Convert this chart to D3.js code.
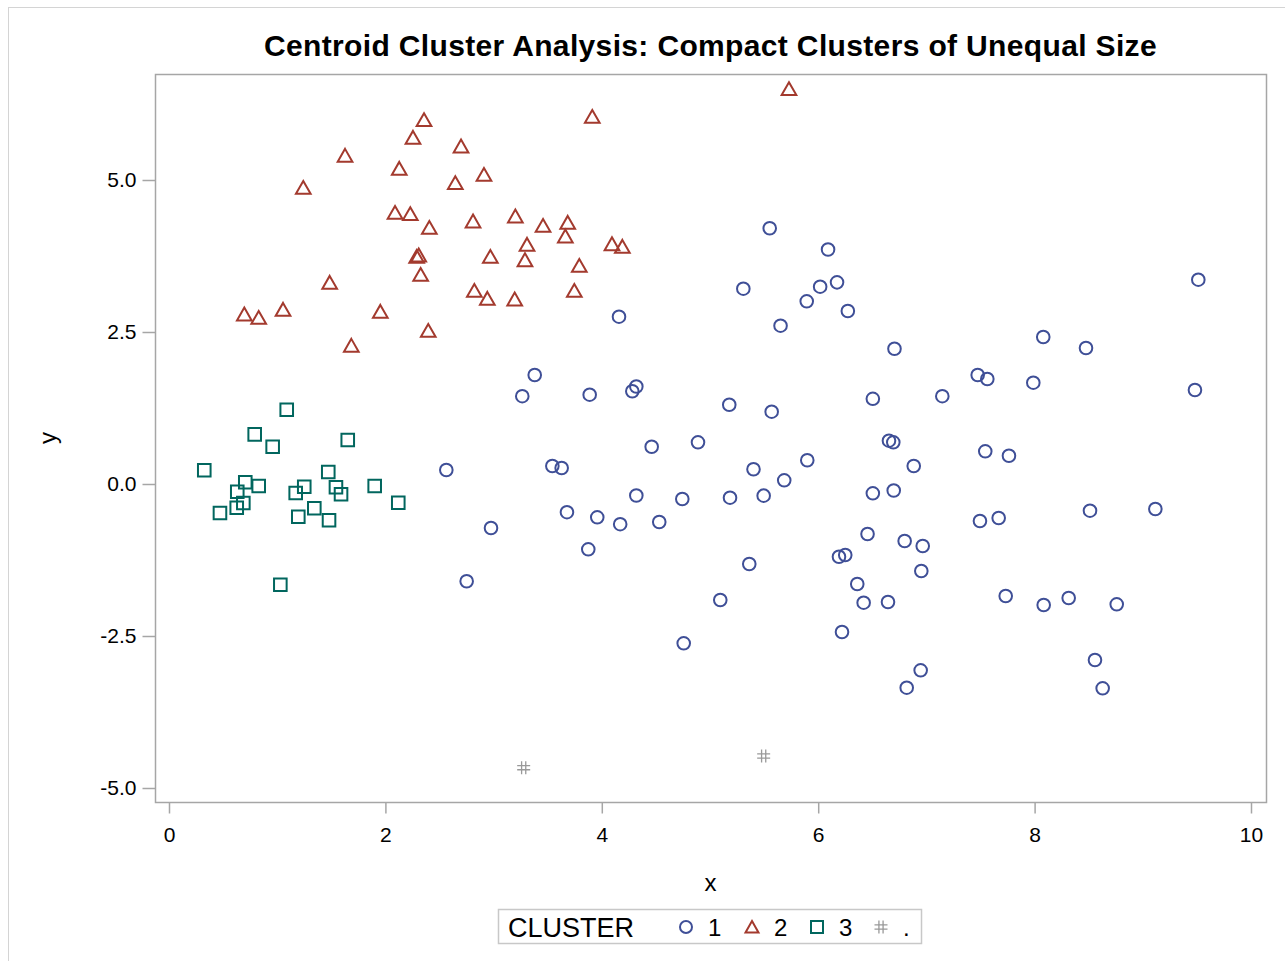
<!DOCTYPE html>
<html>
<head>
<meta charset="utf-8">
<script src="https://cdn.jsdelivr.net/npm/d3@7"></script>
<style>
  body { margin: 0; background: #fff; }
  svg text { font-family: Arial, 'Liberation Sans', sans-serif; }
</style>
</head>
<body>
<div id="chart"></div>
<script>
// cluster 1 (circles)
const c1x = [5.552, 6.091, 5.308, 6.018, 6.174, 5.894, 6.274, 5.652, 4.159, 6.705,
  3.380, 3.265, 3.888, 4.282, 4.319, 5.178, 5.570, 6.505, 7.147, 7.474,
  7.563, 7.988, 8.080, 8.475, 9.513, 9.482, 6.654, 6.694, 4.461, 4.889,
  3.543, 3.629, 5.402, 5.686, 5.899, 6.883, 7.544, 7.763, 6.505, 6.698,
  2.563, 4.319, 4.744, 5.185, 5.496, 3.678, 3.958, 4.170, 4.531, 2.976,
  3.875, 5.363, 6.456, 6.799, 6.966, 6.192, 6.250, 6.953, 6.361, 6.420,
  6.645, 5.095, 6.220, 4.757, 6.947, 6.818, 7.495, 7.668, 8.512, 9.116,
  7.733, 8.084, 8.315, 8.759, 8.558, 8.629, 2.751];
const c1y = [4.206, 3.857, 3.212, 3.245, 3.317, 3.005, 2.845, 2.604, 2.752, 2.225,
  1.793, 1.444, 1.469, 1.525, 1.604, 1.304, 1.189, 1.401, 1.444, 1.793,
  1.727, 1.666, 2.418, 2.237, 3.360, 1.546, 0.712, 0.686, 0.613, 0.686,
  0.296, 0.263, 0.243, 0.061, 0.391, 0.296, 0.538, 0.465, -0.153, -0.107,
  0.230, -0.189, -0.247, -0.225, -0.192, -0.464, -0.548, -0.661, -0.625, -0.724,
  -1.074, -1.316, -0.822, -0.938, -1.020, -1.197, -1.168, -1.431, -1.645, -1.952,
  -1.941, -1.908, -2.434, -2.620, -3.064, -3.350, -0.609, -0.559, -0.439, -0.411,
  -1.842, -1.990, -1.875, -1.979, -2.895, -3.360, -1.600];

// cluster 2 (triangles)
const c2x = [5.730, 3.912, 2.357, 2.255, 2.699, 1.627, 2.128, 2.646, 2.911, 1.241,
  2.089, 2.230, 2.406, 2.810, 3.201, 3.457, 3.685, 3.663, 3.309, 4.094,
  4.190, 2.289, 2.308, 2.970, 3.290, 3.792, 2.326, 1.485, 2.822, 2.942,
  3.195, 3.746, 0.696, 0.829, 1.054, 1.953, 2.396, 1.685];
const c2y = [6.497, 6.041, 5.987, 5.696, 5.554, 5.400, 5.186, 4.951, 5.087, 4.873,
  4.462, 4.441, 4.215, 4.321, 4.403, 4.248, 4.298, 4.074, 3.936, 3.947,
  3.903, 3.738, 3.762, 3.738, 3.684, 3.590, 3.442, 3.311, 3.179, 3.048,
  3.038, 3.179, 2.791, 2.735, 2.867, 2.834, 2.521, 2.275];

// cluster 3 (squares)
const c3x = [1.088, 0.792, 0.958, 1.652, 0.326, 1.472, 0.705, 0.829, 0.631, 1.250,
  1.171, 1.543, 1.590, 1.901, 0.687, 0.626, 0.471, 1.343, 1.195, 1.479,
  2.119, 1.029];
const c3y = [1.222, 0.817, 0.613, 0.724, 0.225, 0.197, 0.028, -0.033, -0.127, -0.044,
  -0.148, -0.054, -0.169, -0.033, -0.313, -0.390, -0.477, -0.400, -0.538, -0.597,
  -0.308, -1.656];

// missing cluster (.)
const cmx = [3.278, 5.496];
const cmy = [-4.666, -4.474];

const clusterNames = ['1', '2', '3', '.'];
const xTicks = [0, 2, 4, 6, 8, 10];
const yTicks = [-5, -2.5, 0, 2.5, 5];
const titleText = 'Centroid Cluster Analysis: Compact Clusters of Unequal Size';

const width = 1285;
const height = 961;
const frame = { left: 155, right: 1266, top: 74, bottom: 802 };
const colors = ['#3f4f97', '#a33a2e', '#01665e', '#999999'];
const axisColor = '#a6a6a6';

const x = d3.scaleLinear().domain([0, 10]).range([169, 1251]);
const y = d3.scaleLinear().domain([-5, 5]).range([788, 180]);

const svg = d3.select('#chart')
  .append('svg')
  .attr('width', width)
  .attr('height', height);

// outer border (right and bottom edges fall outside the picture)
svg.append('rect')
  .attr('x', 8.5).attr('y', 7.5)
  .attr('width', 1290).attr('height', 970)
  .attr('fill', 'none')
  .attr('stroke', '#d4d4d4');

svg.append('text')
  .attr('x', (frame.left + frame.right) / 2)
  .attr('y', 56)
  .attr('text-anchor', 'middle')
  .style('font-size', '30px')
  .style('font-weight', 'bold')
  .style('letter-spacing', '0.35px')
  .text(titleText);

svg.append('rect')
  .attr('x', frame.left + 0.5).attr('y', frame.top + 0.5)
  .attr('width', frame.right - frame.left).attr('height', frame.bottom - frame.top)
  .attr('fill', 'none')
  .attr('stroke', axisColor)
  .attr('stroke-width', 1.5);

function styleAxis(g) {
  g.select('.domain').remove();
  g.selectAll('line').attr('stroke', axisColor).attr('stroke-width', 1.5);
  g.selectAll('text').attr('fill', '#000').style('font-size', '21px');
}

svg.append('g')
  .attr('transform', `translate(0, ${frame.bottom + 0.5})`)
  .call(d3.axisBottom(x).tickValues(xTicks).tickSize(11).tickPadding(14).tickFormat(d3.format('d')))
  .call(styleAxis);

svg.append('g')
  .attr('transform', `translate(${frame.left + 0.5}, 0)`)
  .call(d3.axisLeft(y).tickValues(yTicks).tickSize(13).tickPadding(6)
    .tickFormat(d => d3.format('.1f')(d).replace('\u2212', '-')))
  .call(styleAxis);

svg.append('text')
  .attr('x', (frame.left + frame.right) / 2)
  .attr('y', 891)
  .attr('text-anchor', 'middle')
  .style('font-size', '24px')
  .text('x');

svg.append('text')
  .attr('transform', `translate(56, ${(frame.top + frame.bottom) / 2}) rotate(-90)`)
  .attr('text-anchor', 'middle')
  .style('font-size', '24px')
  .text('y');

// marker shapes
const shapes = [
  s => `M${s},0A${s},${s},0,1,1,${-s},0A${s},${s},0,1,1,${s},0Z`,
  s => `M0,${-s}L${s * 1.08},${s * 0.9}L${-s * 1.08},${s * 0.9}Z`,
  s => `M${-s},${-s}H${s}V${s}H${-s}Z`,
  s => `M${-s * 0.32},${-s}V${s}M${s * 0.32},${-s}V${s}M${-s},${-s * 0.32}H${s}M${-s},${s * 0.32}H${s}`
];
const sizes = [6.3, 6.8, 6.3, 6.5];
const widths = [2, 2, 2, 1.3];

const series = [
  d3.zip(c1x, c1y),
  d3.zip(c2x, c2y),
  d3.zip(c3x, c3y),
  d3.zip(cmx, cmy)
];

series.forEach((pts, i) => {
  svg.append('g')
    .selectAll('path')
    .data(pts)
    .enter()
    .append('path')
    .attr('transform', d => `translate(${x(d[0])}, ${y(d[1])})`)
    .attr('d', shapes[i](sizes[i]))
    .attr('fill', 'none')
    .attr('stroke', colors[i])
    .attr('stroke-width', widths[i]);
});

// legend
const legend = svg.append('g');
legend.append('rect')
  .attr('x', 498.5).attr('y', 909.5)
  .attr('width', 423).attr('height', 34)
  .attr('fill', 'none')
  .attr('stroke', '#c8c8c8')
  .attr('stroke-width', 1.5);
legend.append('text')
  .attr('x', 508).attr('y', 937)
  .style('font-size', '27px')
  .text('CLUSTER');
const legendX = [686, 752, 817, 881];
clusterNames.forEach((name, i) => {
  legend.append('path')
    .attr('transform', `translate(${legendX[i]}, 927)`)
    .attr('d', shapes[i](i === 3 ? 6.5 : 6))
    .attr('fill', 'none')
    .attr('stroke', colors[i])
    .attr('stroke-width', widths[i]);
  legend.append('text')
    .attr('x', legendX[i] + 22).attr('y', 936)
    .style('font-size', '24px')
    .text(name);
});
</script>
</body>
</html>
